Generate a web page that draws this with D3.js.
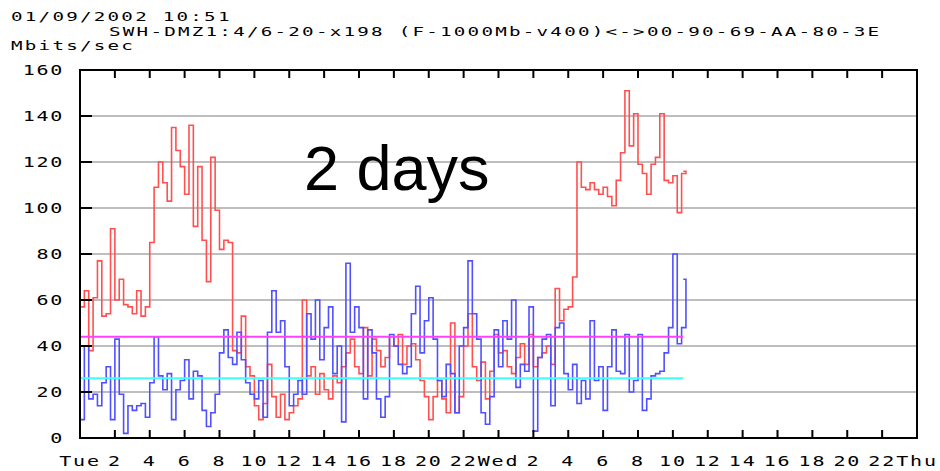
<!DOCTYPE html>
<html><head><meta charset="utf-8">
<script src="https://cdn.jsdelivr.net/npm/d3@7"></script>
<style>body{margin:0;background:#fff}svg{display:block}</style>
</head><body>
<svg id="c" width="940" height="471"></svg>
<script>
// ---------- data ----------
const titleDate = "01/09/2002 10:51";
const titleLine = "SWH-DMZ1:4/6-20-x198 (F-1000Mb-v400)<->00-90-69-AA-80-3E";
const unitLabel = "Mbits/sec";
const overlayText = "2 days";
const yTicks = [0, 20, 40, 60, 80, 100, 120, 140, 160];
const xTickHours = [0,2,4,6,8,10,12,14,16,18,20,22,24,26,28,30,32,34,36,38,40,42,44,46,48];
const xTickLabels = ["Tue","2","4","6","8","10","12","14","16","18","20","22","Wed","2","4","6","8","10","12","14","16","18","20","22","Thu"];
const sampleStepHours = 0.25;   // one value per 15 minutes, starting Tue 00:00
const redValues = [
  57,64,38,61, 77,53,54,91, 60,69,58,57, 54,64,53,57,
  85,109,120,111, 103,135,125,118, 106,136,92,118, 86,68,122,99,
  82,86,85,38, 37,53,31,27, 14,8,15,32, 18,9,19,8,
  11,14,17,60, 27,31,19,28, 21,17,27,24, 31,37,43,31,
  28,48,27,43, 38,31,
  35,44, 40,45,32,40, 41,34,25,18, 8,18,25,17, 11,50,11,18,
  40,54,31,25, 33,17,29,45, 37,38,31,28, 35,41,32,45,
  31,35,37,40, 32,65,51,56, 57,70,120,109, 108,111,108,106,
  109,105,101,112, 124,151,127,141, 119,115,106,119, 122,141,112,111,
  114,98,115,116
];
const blueValues = [
  8,40,17,19, 14,24,31,8, 43,19,2,14, 12,14,15,9,
  24,44,27,21, 28,8,21,25, 34,17,29,27, 12,5,11,19,
  37,47,35,32, 46,34,24,19, 17,25,9,46, 64,46,51,31,
  14,19,25,19, 54,43,60,34, 48,57,28,40, 7,76,46,57,
  48,17,47,37, 17,9,
  18,45, 40,32,28,31, 54,66,37,51, 61,43,25,18, 32,28,11,40,
  48,77,54,43, 11,6,18,47, 31,51,43,60, 22,32,29,57,
  3,35,43,45, 14,48,50,28, 21,32,15,25, 17,51,25,31,
  12,31,47,29, 28,45,20,25, 45,12,17,27, 28,29,37,48,
  80,41,48,69
];
const maxLevel = 44;   // magenta
const avgLevel = 26;   // cyan
const dataEndHour = 34.6;

// ---------- layout ----------
const svg = d3.select("#c");
const L = 80, R = 917, T = 70, B = 438;
const x = d3.scaleLinear().domain([0, 48]).range([L, R]);
const y = d3.scaleLinear().domain([0, 160]).range([B, T]);
const MONO = "'DejaVu Sans Mono', monospace";

function monoText(g, str, px, py, anchor, size, sx, ls) {
  size = size || 14; sx = sx || 1.43; ls = (ls === undefined) ? 1.2 : ls;
  g.append("text")
    .attr("transform", `translate(${px},${py}) scale(${sx},1)`)
    .attr("text-anchor", anchor || "start")
    .attr("font-family", MONO)
    .attr("font-size", size)
    .attr("letter-spacing", ls)
    .attr("fill", "#000")
    .text(str);
}

// titles (smaller em so the stacked lines do not collide)
monoText(svg, titleDate, 11, 21, "start", 12, 1.6, 1.4);
monoText(svg, titleLine, 109, 35.5, "start", 12, 1.6, 1.4);
monoText(svg, unitLabel, 11, 50, "start", 12, 1.6, 1.4);

// gridlines
svg.append("g").selectAll("line").data(yTicks.filter(v => v > 0 && v < 160)).join("line")
  .attr("x1", L).attr("x2", R).attr("y1", d => y(d)).attr("y2", d => y(d))
  .attr("stroke", "#a8a8a8").attr("stroke-width", 1.6);

// series
const pts = vals => vals.map((v, i) => [i * sampleStepHours, v]).concat([[dataEndHour, vals[vals.length - 1]]]);
const line = d3.line().x(d => x(d[0])).y(d => y(d[1])).curve(d3.curveStepAfter);
svg.append("path").attr("d", line(pts(redValues))).attr("fill", "none")
  .attr("stroke", "#ff5050").attr("stroke-width", 1.6);
svg.append("path").attr("d", line(pts(blueValues))).attr("fill", "none")
  .attr("stroke", "#5050ff").attr("stroke-width", 1.6);

// max / average lines
svg.append("line").attr("x1", x(0)).attr("x2", x(dataEndHour))
  .attr("y1", y(maxLevel)).attr("y2", y(maxLevel)).attr("stroke", "#ff40ff").attr("stroke-width", 2);
svg.append("line").attr("x1", x(0)).attr("x2", x(dataEndHour))
  .attr("y1", y(avgLevel)).attr("y2", y(avgLevel)).attr("stroke", "#40ffff").attr("stroke-width", 2);

// frame
svg.append("rect").attr("x", L).attr("y", T).attr("width", R - L).attr("height", B - T)
  .attr("fill", "none").attr("stroke", "#000").attr("stroke-width", 2);

// y ticks and labels
const yg = svg.append("g");
yTicks.forEach(v => {
  yg.append("line").attr("x1", L).attr("x2", L + 12).attr("y1", y(v)).attr("y2", y(v))
    .attr("stroke", "#000").attr("stroke-width", 2);
  monoText(yg, String(v), 64, y(v) + 5, "end");
});

// x ticks and labels
const xg = svg.append("g");
xTickHours.forEach((h, i) => {
  xg.append("line").attr("x1", x(h)).attr("x2", x(h)).attr("y1", T).attr("y2", T + 8)
    .attr("stroke", "#000").attr("stroke-width", 2);
  xg.append("line").attr("x1", x(h)).attr("x2", x(h)).attr("y1", B).attr("y2", B - 8)
    .attr("stroke", "#000").attr("stroke-width", 2);
  monoText(xg, xTickLabels[i], x(h), 466, "middle");
});

// overlay label
svg.append("text").attr("x", 304).attr("y", 190)
  .attr("font-family", "'Liberation Sans', Arial, sans-serif").attr("font-size", 63)
  .attr("fill", "#000").text(overlayText);
</script>
</body></html>
